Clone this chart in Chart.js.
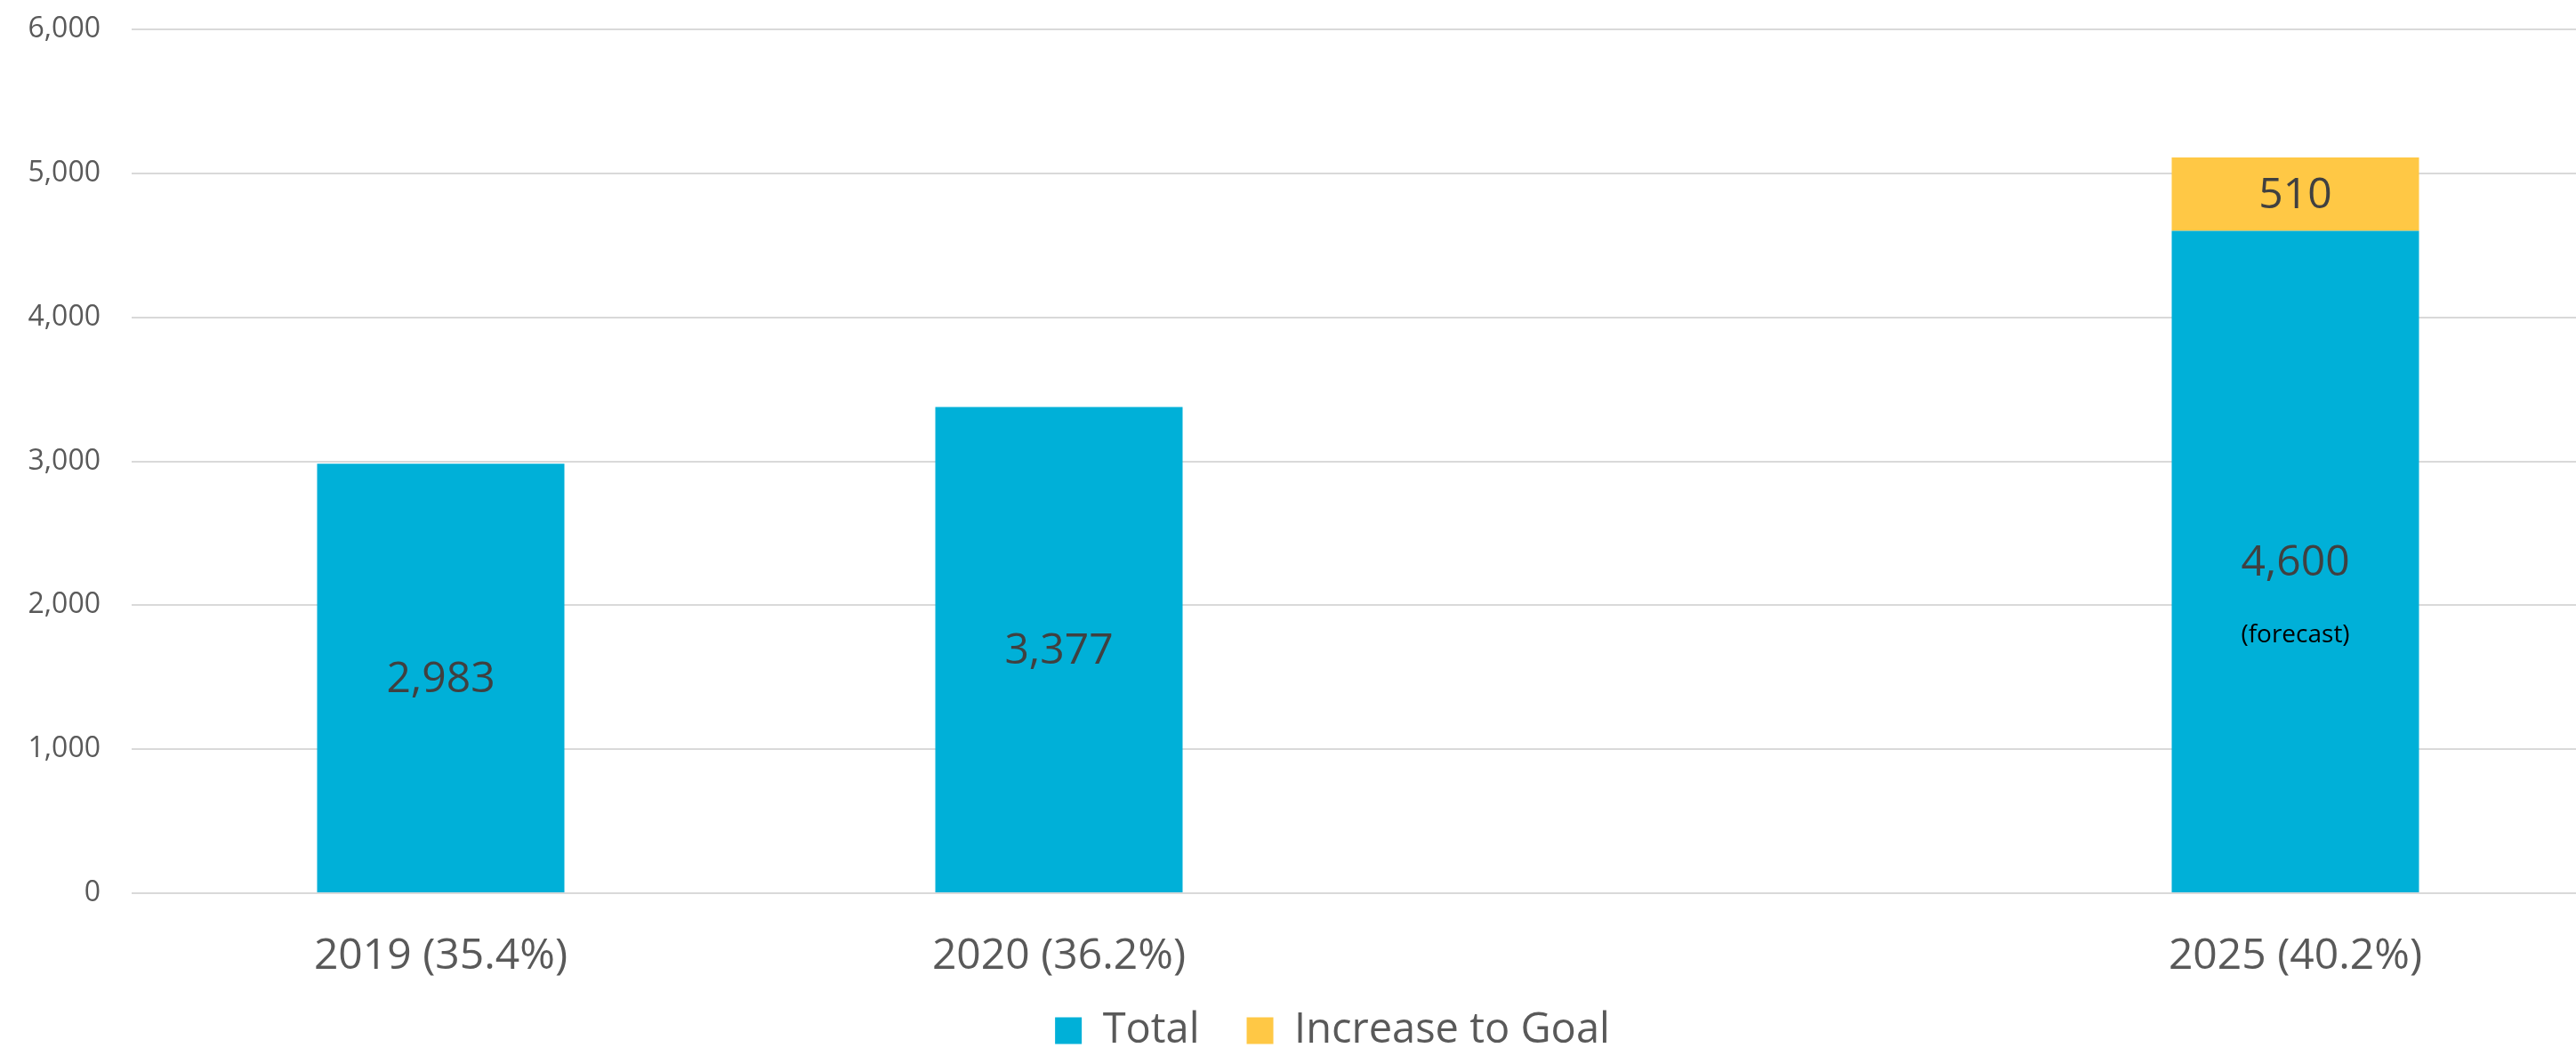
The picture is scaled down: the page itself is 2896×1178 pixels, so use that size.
<!DOCTYPE html>
<html>
<head>
<meta charset="utf-8">
<title>Total and increase to goal</title>
<script src="https://cdn.jsdelivr.net/npm/chart.js@4.4.1/dist/chart.umd.min.js"></script>
<style>
  html, body { margin: 0; padding: 0; background: #fff; overflow: hidden; }
  #wrap { width: 2928px; height: 1256px; }
</style>
</head>
<body>
<div id="wrap"><canvas id="chart" width="2928" height="1256"></canvas></div>
<script>
const CATEGORIES = ['2019 (35.4%)', '2020 (36.2%)', '', '2025 (40.2%)'];
const TOTAL = [2983, 3377, null, 4600];
const INCREASE_TO_GOAL = [null, null, null, 510];
const NOTES = ['', '', '', '(forecast)'];
const Y_TICKS = [0, 1000, 2000, 3000, 4000, 5000, 6000];

// values written in the middle of each bar segment
const barLabels = {
  id: 'barLabels',
  afterDatasetsDraw(chart) {
    const ctx = chart.ctx;
    ctx.save();
    ctx.textAlign = 'center';
    ctx.textBaseline = 'middle';
    chart.data.datasets.forEach((ds, i) => {
      const meta = chart.getDatasetMeta(i);
      meta.data.forEach((bar, j) => {
        const v = ds.data[j];
        if (v == null) return;
        const mid = (bar.y + bar.base) / 2;
        ctx.fillStyle = '#404040';
        ctx.font = '48px "Open Sans"';
        ctx.fillText(v.toLocaleString('en-US'), bar.x, mid + 2);
        if (i === 0 && NOTES[j]) {
          ctx.fillStyle = '#000';
          ctx.font = '28px "Open Sans"';
          ctx.fillText(NOTES[j], bar.x, mid + 83);
        }
      });
    });
    ctx.restore();
  }
};

// the legend sits closer under the axis labels and a bit right of centre
const legendNudge = {
  id: 'legendNudge',
  afterLayout(chart) {
    const lg = chart.legend;
    lg.left += 34;
    lg.right += 34;
    lg.top -= 64;
    lg.bottom -= 64;
  }
};

new Chart(document.getElementById('chart'), {
  type: 'bar',
  data: {
    labels: CATEGORIES,
    datasets: [
      { label: 'Total', data: TOTAL, backgroundColor: '#00B0D8', barPercentage: 0.4, categoryPercentage: 1 },
      { label: 'Increase to Goal', data: INCREASE_TO_GOAL, backgroundColor: '#FFC845', barPercentage: 0.4, categoryPercentage: 1 }
    ]
  },
  options: {
    responsive: false,
    animation: false,
    devicePixelRatio: 1,
    layout: { padding: { top: 33, left: 0, right: 0, bottom: 0 } },
    plugins: {
      legend: {
        position: 'bottom',
        labels: {
          boxWidth: 30,
          boxHeight: 30,
          padding: 53,
          color: '#595959',
          font: { family: 'Open Sans', size: 47 }
        }
      },
      tooltip: { enabled: false }
    },
    scales: {
      x: {
        stacked: true,
        grid: { display: false, drawTicks: false },
        border: { display: false },
        ticks: { color: '#595959', padding: 62, font: { family: 'Open Sans', size: 48, lineHeight: '18px' } }
      },
      y: {
        stacked: true,
        min: 0,
        max: 6000,
        afterBuildTicks: s => { s.ticks = Y_TICKS.map(v => ({ value: v })); },
        afterFit: s => {
          s.width = 148;
          s.paddingTop = 0;
          s.paddingBottom = 0;
        },
        grid: { color: '#D9D9D9', lineWidth: 2, drawTicks: false },
        border: { display: false },
        ticks: {
          color: '#595959',
          padding: 35,
          font: { family: 'Open Sans', size: 32 },
          callback: v => v.toLocaleString('en-US')
        }
      }
    }
  },
  plugins: [barLabels, legendNudge]
});
</script>
</body>
</html>
